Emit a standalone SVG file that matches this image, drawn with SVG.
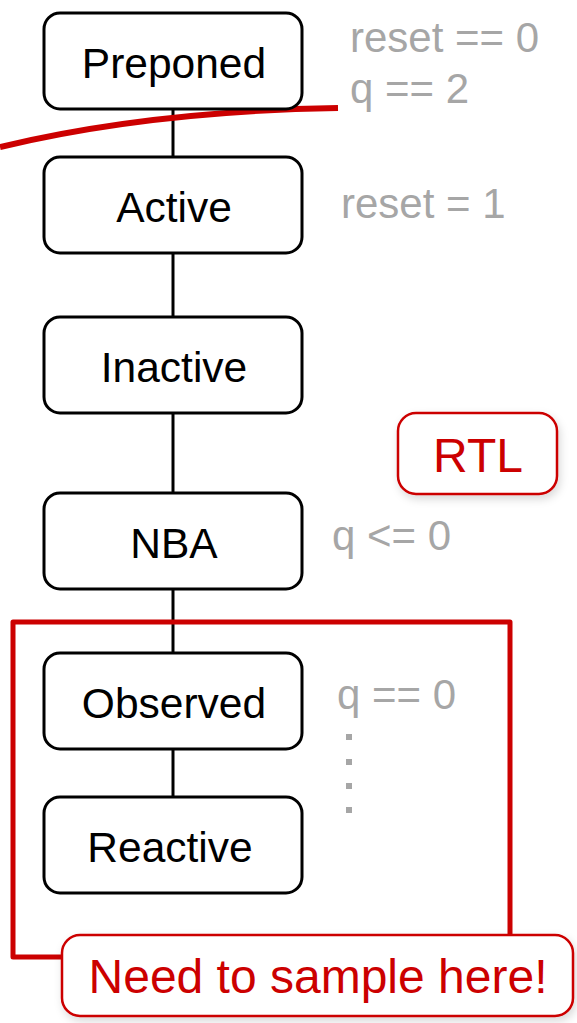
<svg xmlns="http://www.w3.org/2000/svg" width="577" height="1023" viewBox="0 0 577 1023">
  <defs>
    <filter id="soft-shadow" x="-10%" y="-10%" width="130%" height="140%">
      <feDropShadow dx="2" dy="4" stdDeviation="4" flood-color="#000" flood-opacity="0.15"/>
    </filter>
  </defs>
  <style>
    .node rect { fill: #fff; stroke: #000; stroke-width: 3; }
    .node text { font-family: "Liberation Sans", Arial, sans-serif; font-size: 42.5px; fill: #000; text-anchor: middle; }
    .note { font-family: "Liberation Sans", Arial, sans-serif; font-size: 42px; fill: #a6a6a6; }
    .edge { stroke: #000; stroke-width: 3; fill: none; }
    .callout rect { fill: #fff; stroke: #cc0000; stroke-width: 2.5; filter: url(#soft-shadow); }
    .callout text { font-family: "Liberation Sans", Arial, sans-serif; font-size: 48px; fill: #cc0000; text-anchor: middle; }
  </style>

  <rect width="577" height="1023" fill="#fff"/>

  <!-- connectors between scheduling regions -->
  <g id="connectors">
    <line class="edge" x1="173" y1="109" x2="173" y2="157"/>
    <line class="edge" x1="173" y1="253" x2="173" y2="317"/>
    <line class="edge" x1="173" y1="413" x2="173" y2="493"/>
    <line class="edge" x1="173" y1="589" x2="173" y2="653"/>
    <line class="edge" x1="173" y1="749" x2="173" y2="797"/>
  </g>

  <!-- red sampling boundary curve -->
  <path d="M0,147 Q150,111 338,108" fill="none" stroke="#cc0000" stroke-width="6"/>

  <!-- region nodes -->
  <g id="preponed" class="node">
    <rect x="44" y="13" width="258" height="96" rx="16"/>
    <text x="174" y="78">Preponed</text>
  </g>
  <g id="active" class="node">
    <rect x="44" y="157" width="258" height="96" rx="16"/>
    <text x="174" y="222">Active</text>
  </g>
  <g id="inactive" class="node">
    <rect x="44" y="317" width="258" height="96" rx="16"/>
    <text x="174" y="382">Inactive</text>
  </g>
  <g id="nba" class="node">
    <rect x="44" y="493" width="258" height="96" rx="16"/>
    <text x="174" y="558">NBA</text>
  </g>
  <g id="observed" class="node">
    <rect x="44" y="653" width="258" height="96" rx="16"/>
    <text x="174" y="718">Observed</text>
  </g>
  <g id="reactive" class="node">
    <rect x="44" y="797" width="258" height="96" rx="16"/>
    <text x="170" y="862">Reactive</text>
  </g>

  <!-- signal value annotations -->
  <g id="annotations">
    <text class="note" x="350" y="52">reset == 0</text>
    <text class="note" x="350" y="103">q == 2</text>
    <text class="note" x="341" y="218">reset = 1</text>
    <text class="note" x="332" y="550">q &lt;= 0</text>
    <text class="note" x="337" y="709">q == 0</text>
    <g fill="#a6a6a6">
      <rect x="346" y="734" width="6" height="6"/>
      <rect x="346" y="759" width="6" height="6"/>
      <rect x="346" y="783" width="6" height="6"/>
      <rect x="346" y="807" width="6" height="6"/>
    </g>
  </g>

  <!-- sampling window frame -->
  <path d="M13,622 H510 V957 H13 Z" fill="none" stroke="#cc0000" stroke-width="5" stroke-linejoin="round"/>

  <g id="rtl" class="callout">
    <rect x="398" y="413" width="159" height="81" rx="18"/>
    <text x="478" y="472">RTL</text>
  </g>

  <g id="sample-note" class="callout">
    <rect x="62" y="935" width="511" height="81" rx="18"/>
    <text x="318" y="993">Need to sample here!</text>
  </g>
</svg>
